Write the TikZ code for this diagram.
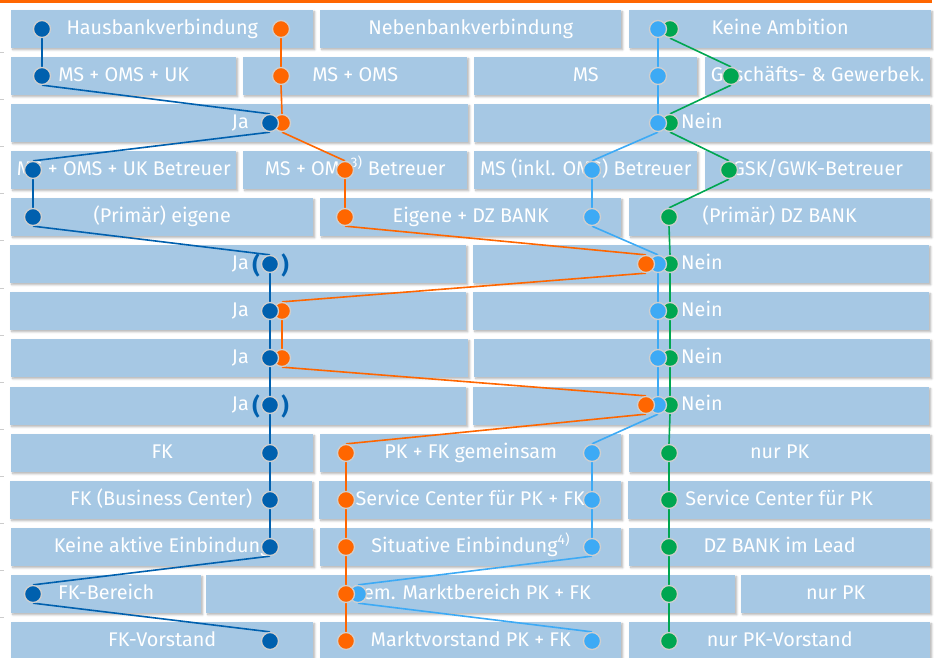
\documentclass[tikz,border=0pt]{standalone}
\usepackage{fontspec}
\setmainfont{Fira Sans}
\usetikzlibrary{shadows.blur}
\definecolor{boxblue}{HTML}{A6C8E4}
\definecolor{dbcol}{HTML}{0060AE}
\definecolor{orcol}{HTML}{FF6600}
\definecolor{lbcol}{HTML}{3DAAF5}
\definecolor{grcol}{HTML}{00A650}
\definecolor{ringcol}{HTML}{CFCFCF}
\pgfdeclarelayer{fg}
\pgfsetlayers{main,fg}
\tikzset{
  box/.style={fill=boxblue, draw=none, inner sep=0pt, minimum height=38pt, text=white,
    font=\fontsize{19.8}{22}\selectfont, anchor=north west, text height=14pt, text depth=4pt,
    blur shadow={shadow xshift=1.5pt, shadow yshift=-1.5pt, shadow blur steps=6, shadow opacity=30}},
  lbl/.style={text=white, inner sep=0pt, font=\fontsize{19.8}{22}\selectfont, text height=14pt, text depth=4pt},
  par/.style={text=dbcol, inner sep=0pt, font=\fontsize{23}{25}\selectfont\bfseries},
  dot/.style={circle, fill=#1, draw=ringcol, line width=1.3pt, minimum size=17pt, inner sep=0pt},
  link/.style={draw=#1, line width=1.6pt},
  tick/.style={draw=black!20, line width=0.8pt}
}
\newcommand\bx[5]{\node[box, minimum width={(#3-#2)*1pt}] (#5) at (#2,#1) {#4};}
\begin{document}
\begin{tikzpicture}[x=1pt,y=-1pt]
\useasboundingbox (0,0) rectangle (934,657);
\draw[draw=orcol, line width=2.5pt] (0,1.5) -- (932,1.5);
\foreach \t in {52,99,146,193,240,288,335,382,429,476,523,570,617}{\draw[tick] (0,\t) -- (4,\t);}
% row 1 (top 10)
\bx{10}{11}{313}{Hausbankverbindung}{b1a}
\bx{10}{320}{621}{Nebenbankverbindung}{b1b}
\bx{10}{629}{931}{Keine Ambition}{b1c}
% row 2
\bx{57}{11}{236}{MS + OMS + UK}{b2a}
\bx{57}{243}{467}{MS + OMS}{b2b}
\bx{57}{474}{697}{MS}{b2c}
\bx{57}{705}{930}{Geschäfts- \& Gewerbek.}{b2d}
% row 3
\bx{104}{11}{468}{}{b3a}
\bx{104}{474}{930}{}{b3b}
% row 4
\bx{151}{11}{236}{MS + OMS + UK Betreuer}{b4a}
\bx{151}{243}{467}{MS + OMS\textsuperscript{3)} Betreuer}{b4b}
\bx{151}{474}{697}{MS (inkl. OMS) Betreuer}{b4c}
\bx{151}{705}{930}{GSK/GWK-Betreuer}{b4d}
% row 5
\bx{198}{11}{313}{(Primär) eigene}{b5a}
\bx{198}{320}{621}{Eigene + DZ BANK}{b5b}
\bx{198}{629}{930}{(Primär) DZ BANK}{b5c}
% rows 6-9
\bx{245}{10}{466}{}{b6a}
\bx{245}{473}{929}{}{b6b}
\bx{292}{10}{466}{}{b7a}
\bx{292}{473}{929}{}{b7b}
\bx{339}{11}{468}{}{b8a}
\bx{339}{474}{930}{}{b8b}
\bx{387}{10}{466}{}{b9a}
\bx{387}{473}{929}{}{b9b}
% row 10
\bx{434}{11}{313}{FK}{b10a}
\bx{434}{320}{621}{PK + FK gemeinsam}{b10b}
\bx{434}{629}{930}{nur PK}{b10c}
% row 11
\bx{481}{10}{312}{FK (Business Center)}{b11a}
\bx{481}{319}{621}{Service Center für PK + FK}{b11b}
\bx{481}{628}{930}{Service Center für PK}{b11c}
% row 12
\bx{528}{11}{313}{Keine aktive Einbindung}{b12a}
\bx{528}{320}{621}{Situative Einbindung\textsuperscript{4)}}{b12b}
\bx{528}{629}{930}{DZ BANK im Lead}{b12c}
% row 13
\bx{575}{11}{201}{FK-Bereich}{b13a}
\bx{575}{206}{735}{Gem. Marktbereich PK + FK}{b13b}
\bx{575}{741}{930}{nur PK}{b13c}
% row 14
\bx{622}{11}{313}{FK-Vorstand}{b14a}
\bx{622}{320}{621}{Marktvorstand PK + FK}{b14b}
\bx{622}{629}{930}{nur PK-Vorstand}{b14c}
% Ja / Nein labels
\node[lbl, anchor=east] (ja3) at (249,123) {Ja};
\node[lbl, anchor=west] (ne3) at (681,123) {Nein};
\node[lbl, anchor=east] (ja6) at (249,264) {Ja};
\node[lbl, anchor=west] (ne6) at (681,264) {Nein};
\node[lbl, anchor=east] (ja7) at (249,311) {Ja};
\node[lbl, anchor=west] (ne7) at (681,311) {Nein};
\node[lbl, anchor=east] (ja8) at (249,358) {Ja};
\node[lbl, anchor=west] (ne8) at (681,358) {Nein};
\node[lbl, anchor=east] (ja9) at (249,405) {Ja};
\node[lbl, anchor=west] (ne9) at (681,405) {Nein};
\node[par] (p6l) at (256,265) {(};
\node[par] (p6r) at (285,265) {)};
\node[par] (p9l) at (256,406) {(};
\node[par] (p9r) at (285,406) {)};
% dots (foreground): green, light blue, orange, dark blue
\begin{pgfonlayer}{fg}
\node[dot=grcol] (g1) at (670,29) {};
\node[dot=grcol] (g2) at (731,76) {};
\node[dot=grcol] (g3) at (670,123) {};
\node[dot=grcol] (g4) at (729,170) {};
\node[dot=grcol] (g5) at (669,217) {};
\node[dot=grcol] (g6) at (670,264) {};
\node[dot=grcol] (g7) at (670,311) {};
\node[dot=grcol] (g8) at (670,358) {};
\node[dot=grcol] (g9) at (670,405) {};
\node[dot=grcol] (g10) at (669,453) {};
\node[dot=grcol] (g11) at (669,500) {};
\node[dot=grcol] (g12) at (669,547) {};
\node[dot=grcol] (g13) at (669,594) {};
\node[dot=grcol] (g14) at (669,641) {};
\node[dot=lbcol] (l1) at (658,29) {};
\node[dot=lbcol] (l2) at (658,76) {};
\node[dot=lbcol] (l3) at (658,123) {};
\node[dot=lbcol] (l4) at (592,170) {};
\node[dot=lbcol] (l5) at (592,217) {};
\node[dot=lbcol] (l6) at (658,264) {};
\node[dot=lbcol] (l7) at (658,311) {};
\node[dot=lbcol] (l8) at (658,358) {};
\node[dot=lbcol] (l9) at (658,405) {};
\node[dot=lbcol] (l10) at (592,453) {};
\node[dot=lbcol] (l11) at (592,500) {};
\node[dot=lbcol] (l12) at (592,547) {};
\node[dot=lbcol] (l13) at (358,594) {};
\node[dot=lbcol] (l14) at (592,641) {};
\node[dot=orcol] (o1) at (281,29) {};
\node[dot=orcol] (o2) at (281,76) {};
\node[dot=orcol] (o3) at (282,123) {};
\node[dot=orcol] (o4) at (345,170) {};
\node[dot=orcol] (o5) at (345,217) {};
\node[dot=orcol] (o6) at (646,264) {};
\node[dot=orcol] (o7) at (282,311) {};
\node[dot=orcol] (o8) at (282,358) {};
\node[dot=orcol] (o9) at (646,405) {};
\node[dot=orcol] (o10) at (346,453) {};
\node[dot=orcol] (o11) at (346,500) {};
\node[dot=orcol] (o12) at (346,547) {};
\node[dot=orcol] (o13) at (346,594) {};
\node[dot=orcol] (o14) at (346,641) {};
\node[dot=dbcol] (d1) at (42,29) {};
\node[dot=dbcol] (d2) at (42,76) {};
\node[dot=dbcol] (d3) at (270,123) {};
\node[dot=dbcol] (d4) at (33,170) {};
\node[dot=dbcol] (d5) at (33,217) {};
\node[dot=dbcol] (d6) at (270,264) {};
\node[dot=dbcol] (d7) at (270,311) {};
\node[dot=dbcol] (d8) at (270,358) {};
\node[dot=dbcol] (d9) at (270,405) {};
\node[dot=dbcol] (d10) at (270,453) {};
\node[dot=dbcol] (d11) at (270,500) {};
\node[dot=dbcol] (d12) at (270,547) {};
\node[dot=dbcol] (d13) at (33,594) {};
\node[dot=dbcol] (d14) at (270,641) {};
\end{pgfonlayer}
% connectors
\foreach \a/\b in {1/2,2/3,3/4,4/5,5/6,6/7,7/8,8/9,9/10,10/11,11/12,12/13,13/14}{
  \draw[link=grcol] (g\a.south) -- (g\b.north);
  \draw[link=lbcol] (l\a.south) -- (l\b.north);
  \draw[link=orcol] (o\a.south) -- (o\b.north);
  \draw[link=dbcol] (d\a.south) -- (d\b.north);
}
\end{tikzpicture}
\end{document}
